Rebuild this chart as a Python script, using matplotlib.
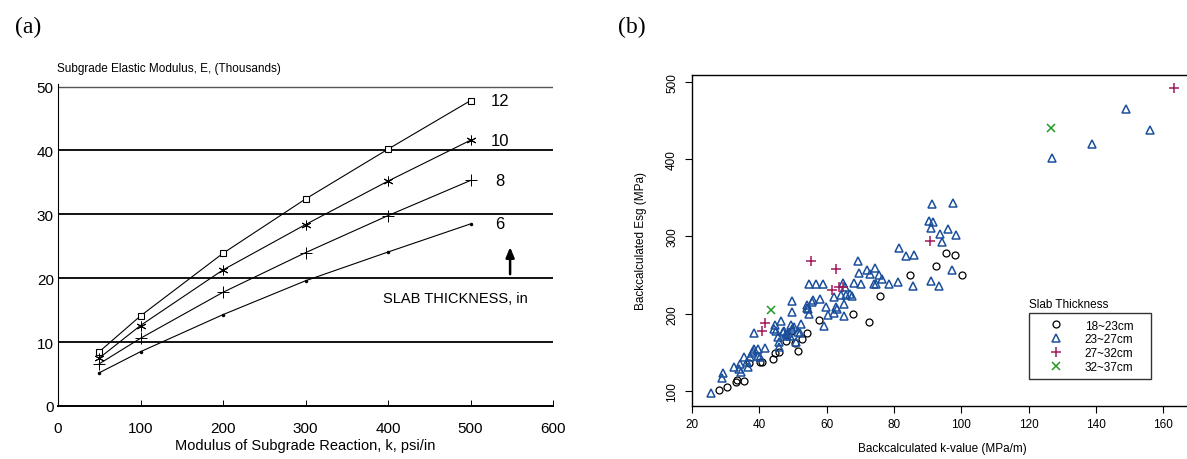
import matplotlib
matplotlib.use('Agg')
import numpy as np
from matplotlib import pyplot as plt
from matplotlib import font_manager

# ---- panel (a): E vs k for slab thickness ----
k_psi = [50, 100, 200, 300, 400, 500]
E_12 = [8.5, 14.1, 23.9, 32.4, 40.2, 47.8]
E_10 = [7.5, 12.6, 21.3, 28.4, 35.2, 41.6]
E_8 = [6.6, 10.6, 17.8, 24.0, 29.8, 35.3]
E_6 = [5.2, 8.5, 14.3, 19.6, 24.1, 28.5]
thick_labels = ['12', '10', '8', '6']

# ---- panel (b): backcalculated k vs Esg ----
k_18_23 = [28.0, 30.3, 33.0, 33.5, 35.5, 36.9, 40.1, 40.7, 44.2, 44.7, 45.9,
           47.9, 49.5, 50.5, 51.5, 52.6, 54.1, 57.7, 67.7, 72.6, 75.7, 84.7,
           92.6, 95.5, 98.1, 100.1]
E_18_23 = [102.2, 105.3, 112.0, 115.0, 113.0, 136.6, 138.0, 138.0, 141.8, 149.0,
           150.5, 165.2, 178.0, 162.0, 152.5, 168.0, 175.0, 192.5, 199.8, 189.0,
           223.5, 250.6, 261.8, 278.2, 275.6, 250.2]

k_23_27 = [25.6, 28.8, 29.1, 32.6, 34.0, 34.3, 34.6, 35.5, 36.2, 36.7, 37.2,
           37.7, 38.2, 38.5, 38.5, 39.5, 39.7, 40.2, 41.7,
           44.4, 44.7, 45.0, 45.5, 45.7, 45.8, 46.3, 47.0, 47.4, 47.9, 48.3,
           48.6, 49.0, 49.4, 49.6, 49.6, 49.8, 50.3, 50.8, 51.4, 52.0, 52.4,
           54.1, 54.2, 54.6, 54.7, 54.8, 55.5, 55.9, 56.8, 58.0, 59.0, 59.3,
           59.8, 60.3, 62.1, 62.2, 62.8, 63.0, 64.4, 64.8, 65.0, 65.1, 65.6,
           65.4, 66.9, 67.4, 68.2, 69.3, 69.5, 70.1, 71.9, 72.9, 74.4, 74.1,
           74.5, 75.4, 76.5, 78.4, 81.3, 81.5, 83.6, 85.9, 85.5, 90.4, 90.9,
           91.0, 91.3, 91.7, 93.5, 93.8, 94.2, 96.1, 97.1, 97.5, 98.5,
           127.0, 138.8, 148.9, 156.1]
E_23_27 = [97.6, 116.8, 123.5, 132.0, 128.8, 135.3, 125.3, 144.8, 137.5, 131.0, 143.9,
           150.0, 152.5, 154.2, 175.3, 154.6, 146.0, 144.0, 156.0,
           180.5, 186.1, 178.0, 169.8, 163.3, 157.0, 191.2, 176.0, 178.4, 174.1, 172.0,
           175.3, 171.0, 186.1, 216.6, 202.8, 180.0, 183.0, 163.5, 176.2, 175.0, 187.0,
           211.4, 208.0, 206.3, 199.8, 238.6, 215.0, 217.5, 238.6, 219.2, 238.2, 184.4,
           209.5, 198.6, 222.2, 201.2, 209.0, 206.0, 224.4, 239.5, 197.3, 212.3, 224.4,
           235.0, 225.7, 222.5, 239.5, 267.7, 253.0, 238.2, 256.8, 251.5, 258.9, 238.2,
           238.8, 249.8, 244.4, 238.2, 241.6, 284.7, 275.2, 276.1, 236.4, 320.4, 242.9,
           310.5, 341.9, 318.2, 236.4, 303.2, 292.4, 309.6, 257.0, 342.8, 301.9,
           401.4, 419.5, 464.7, 437.6]

k_27_32 = [40.9, 41.7, 55.2, 61.7, 62.8, 63.8, 64.8, 90.7, 163.2]
E_27_32 = [177.5, 187.8, 268.8, 231.3, 257.4, 234.6, 235.2, 293.7, 491.8]

k_32_37 = [43.5, 126.6]
E_32_37 = [205.5, 440.2]

group_labels = ['18~23cm', '23~27cm', '27~32cm', '32~37cm']

# scanned panel uses a narrow sans; fall back to Liberation Sans
names = {f.name for f in font_manager.fontManager.ttflist}
narrow = 'Liberation Sans Narrow' if 'Liberation Sans Narrow' in names else 'Liberation Sans'

fig = plt.figure(figsize=(11.87, 4.6), dpi=100)
W, H = 1187.0, 460.0


def box(l, t, r, b):
    return [l / W, 1 - b / H, (r - l) / W, (b - t) / H]


# ---------------- (a) ----------------
axa = fig.add_axes(box(58, 85, 553, 407))
axa.set_xlim(0, 600)
axa.set_ylim(0, 50.4)
for yv in [10, 20, 30, 40]:
    axa.axhline(yv, color='black', lw=1.3, zorder=1)
axa.axhline(50, color='#555555', lw=1.0, zorder=1)
for s in ['top', 'right']:
    axa.spines[s].set_visible(False)
axa.spines['bottom'].set_linewidth(1.4)
axa.spines['left'].set_linewidth(0.8)

axa.plot(k_psi, E_12, color='black', lw=0.8, marker='s', ms=5,
         mfc='white', mec='black', mew=0.8)
axa.plot(k_psi, E_10, color='black', lw=0.8, marker=(6, 2, 0), ms=7, mew=0.7)
axa.plot(k_psi, E_8, color='black', lw=0.8, marker='+', ms=9, mew=0.7)
axa.plot(k_psi, E_6, color='black', lw=0.8, marker='.', ms=3)

for lab, ys in zip(thick_labels, [E_12, E_10, E_8, E_6]):
    axa.text(536, ys[-1], lab, family=narrow, fontsize=12,
             ha='center', va='center')
axa.annotate('', xy=(548, 25.3), xytext=(548, 20.2),
             arrowprops=dict(arrowstyle='-|>,head_length=0.6,head_width=0.25',
                             color='black', lw=1.8))
axa.text(394, 16.9, 'SLAB THICKNESS, in', family=narrow,
         fontsize=10.5, ha='left', va='center')

axa.set_xticks([0, 100, 200, 300, 400, 500, 600])
axa.set_yticks([0, 10, 20, 30, 40, 50])
axa.tick_params(axis='x', direction='in', length=4, width=0.7,
                labelsize=11, pad=11)
axa.tick_params(axis='y', length=0, labelsize=11, pad=3)
for t in axa.get_xticklabels() + axa.get_yticklabels():
    t.set_family(narrow)
axa.set_xlabel('Modulus of Subgrade Reaction, k, psi/in', family=narrow,
               fontsize=10.5, labelpad=2)
fig.text(57 / W, 1 - 69 / H, 'Subgrade Elastic Modulus, E, (Thousands)',
         family=narrow, fontsize=8.5, ha='left', va='center')

fig.text(28 / W, 1 - 27 / H, '(a)', family='Liberation Serif', fontsize=17,
         ha='center', va='center')
fig.text(632 / W, 1 - 27 / H, '(b)', family='Liberation Serif', fontsize=17,
         ha='center', va='center')

# ---------------- (b) ----------------
axb = fig.add_axes(box(692, 76, 1192, 407))
axb.set_xlim(20, 168.5)
axb.set_ylim(81.0, 508.5)
axb.spines['right'].set_visible(False)
for s in ['left', 'bottom', 'top']:
    axb.spines[s].set_linewidth(1.0)

blue = '#1B4F9C'
red = '#A1195B'
green = '#229A22'
h1, = axb.plot(k_18_23, E_18_23, ls='none', marker='o', ms=5, mfc='none',
               mec='black', mew=0.9, label=group_labels[0])
h2, = axb.plot(k_23_27, E_23_27, ls='none', marker='^', ms=5.2, mfc='none',
               mec=blue, mew=1.1, label=group_labels[1])
h3, = axb.plot(k_27_32, E_27_32, ls='none', marker='+', ms=6.5, mec=red,
               mew=1.1, label=group_labels[2])
h4, = axb.plot(k_32_37, E_32_37, ls='none', marker='x', ms=5.5, mec=green,
               mew=1.1, label=group_labels[3])

axb.set_xticks([20, 40, 60, 80, 100, 120, 140, 160])
axb.set_yticks([100, 200, 300, 400, 500])
axb.tick_params(direction='out', length=5, width=0.8, labelsize=8.5)
axb.tick_params(axis='x', top=False, pad=4)
axb.tick_params(axis='y', pad=5)
for t in axb.get_yticklabels():
    t.set_rotation(90)
    t.set_va('center')
for t in axb.get_xticklabels() + axb.get_yticklabels():
    t.set_family('Liberation Sans')
axb.set_xlabel('Backcalculated k-value (MPa/m)', family='Liberation Sans',
               fontsize=8.5)
axb.set_ylabel('Backcalculated Esg (MPa)', family='Liberation Sans',
               fontsize=8.5)
axb.xaxis.set_label_coords(0.5, -0.11)
axb.yaxis.set_label_coords(-0.09, 0.5)

leg = axb.legend(handles=[h1, h2, h3, h4], loc='upper left',
                 bbox_to_anchor=(120, 114.6, 36.3, 86.4),
                 bbox_transform=axb.transData, mode='expand',
                 borderaxespad=0, fancybox=False, framealpha=1,
                 edgecolor='#333333', prop={'family': 'Liberation Sans', 'size': 8.5},
                 numpoints=1, handlelength=3.6, handletextpad=0.6,
                 labelspacing=0.15, borderpad=0.55)
leg.get_frame().set_linewidth(1.0)
axb.text(120.2, 212.8, 'Slab Thickness', family='Liberation Sans',
         fontsize=8.5, ha='left', va='center')

fig.savefig('out.png', dpi=100)
